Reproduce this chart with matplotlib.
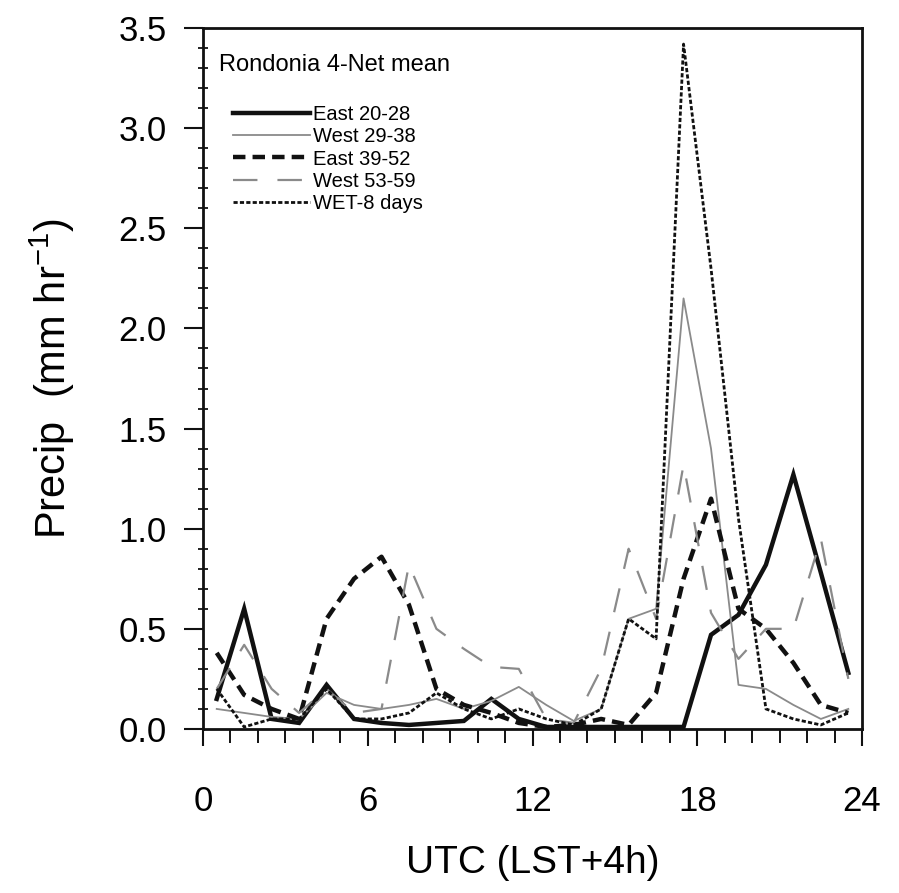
import matplotlib
matplotlib.use("Agg")
import matplotlib.pyplot as plt
from matplotlib.ticker import MultipleLocator

plt.rcParams['font.family'] = ['Liberation Sans', 'DejaVu Sans']
plt.rcParams['mathtext.fontset'] = 'custom'
plt.rcParams['mathtext.rm'] = 'Liberation Sans'

# Hourly bins (UTC), plotted at mid-hour
hours = [0.5, 1.5, 2.5, 3.5, 4.5, 5.5, 6.5, 7.5, 8.5, 9.5, 10.5, 11.5,
         12.5, 13.5, 14.5, 15.5, 16.5, 17.5, 18.5, 19.5, 20.5, 21.5, 22.5, 23.5]

east_20_28 = [0.15, 0.60, 0.05, 0.03, 0.22, 0.05, 0.03, 0.02, 0.03, 0.04, 0.15, 0.05,
              0.01, 0.01, 0.01, 0.01, 0.01, 0.01, 0.47, 0.57, 0.82, 1.27, 0.78, 0.28]
west_29_38 = [0.10, 0.08, 0.06, 0.05, 0.18, 0.12, 0.10, 0.12, 0.15, 0.10, 0.14, 0.21,
              0.12, 0.04, 0.10, 0.55, 0.60, 2.15, 1.40, 0.22, 0.20, 0.12, 0.05, 0.10]
east_39_52 = [0.38, 0.17, 0.10, 0.05, 0.55, 0.75, 0.86, 0.62, 0.20, 0.12, 0.08, 0.03,
              0.01, 0.02, 0.05, 0.02, 0.18, 0.75, 1.15, 0.60, 0.50, 0.33, 0.12, 0.08]
west_53_59 = [0.20, 0.42, 0.20, 0.08, 0.20, 0.08, 0.10, 0.82, 0.50, 0.40, 0.31, 0.30,
              0.05, 0.03, 0.30, 0.90, 0.55, 1.32, 0.58, 0.35, 0.50, 0.50, 0.95, 0.25]
wet_8_days = [0.20, 0.01, 0.05, 0.05, 0.20, 0.05, 0.05, 0.08, 0.18, 0.10, 0.05, 0.10,
              0.05, 0.02, 0.10, 0.55, 0.45, 3.42, 2.30, 1.05, 0.10, 0.05, 0.02, 0.08]

labels = ["East 20-28", "West 29-38", "East 39-52", "West 53-59", "WET-8 days"]
x_ticks = [0, 6, 12, 18, 24]
y_ticks = [0.0, 0.5, 1.0, 1.5, 2.0, 2.5, 3.0, 3.5]

fig = plt.figure(figsize=(8.99, 8.93), dpi=100)
ax = fig.add_axes([0.2258, 0.1837, 0.9589 - 0.2258, 0.9686 - 0.1837])

ax.plot(hours, east_20_28, color='#111111', lw=3.2, solid_joinstyle='miter',
        label=labels[0])
ax.plot(hours, west_29_38, color='#8a8a8a', lw=1.3, label=labels[1])
ax.plot(hours, east_39_52, color='#111111', lw=3.2, linestyle=(0, (2.8, 1.6)),
        label=labels[2])
ax.plot(hours, west_53_59, color='#8a8a8a', lw=1.6, linestyle=(0, (11, 9)),
        label=labels[3])
ax.plot(hours, wet_8_days, color='#111111', lw=2.0, linestyle=(0, (1.5, 0.8)),
        label=labels[4])

ax.set_xlim(0, 24)
ax.set_ylim(0, 3.5)
ax.set_xticks(x_ticks)
ax.set_xticklabels([str(t) for t in x_ticks])
ax.set_yticks(y_ticks)
ax.set_yticklabels([f"{t:.1f}" for t in y_ticks])
ax.xaxis.set_minor_locator(MultipleLocator(1))
ax.yaxis.set_minor_locator(MultipleLocator(0.1))

ax.tick_params(axis='both', which='major', labelsize=25, width=1.5, color='#111111')
ax.tick_params(axis='x', which='major', direction='out', length=12, pad=28)
ax.tick_params(axis='x', which='minor', direction='out', length=10, width=1.3)
ax.tick_params(axis='y', which='major', direction='out', length=14, pad=12)
ax.tick_params(axis='y', which='minor', direction='inout', length=7, width=1.2)
for s in ax.spines.values():
    s.set_linewidth(2.0)
    s.set_color('#111111')

ax.set_xlabel("UTC (LST+4h)", fontsize=28, labelpad=20)
ax.set_ylabel(r"Precip  (mm hr$^{\mathregular{-1}}$)", fontsize=30, labelpad=30)

ax.text(0.025, 0.963, "Rondonia 4-Net mean", transform=ax.transAxes,
        fontsize=17, ha='left', va='top')
leg = ax.legend(loc='upper left', bbox_to_anchor=(0.0175, 0.9165), frameon=False,
                handlelength=3.85, handletextpad=0.15, labelspacing=0.17,
                prop={'size': 14.5})

fig.savefig("out.png", dpi=100)
